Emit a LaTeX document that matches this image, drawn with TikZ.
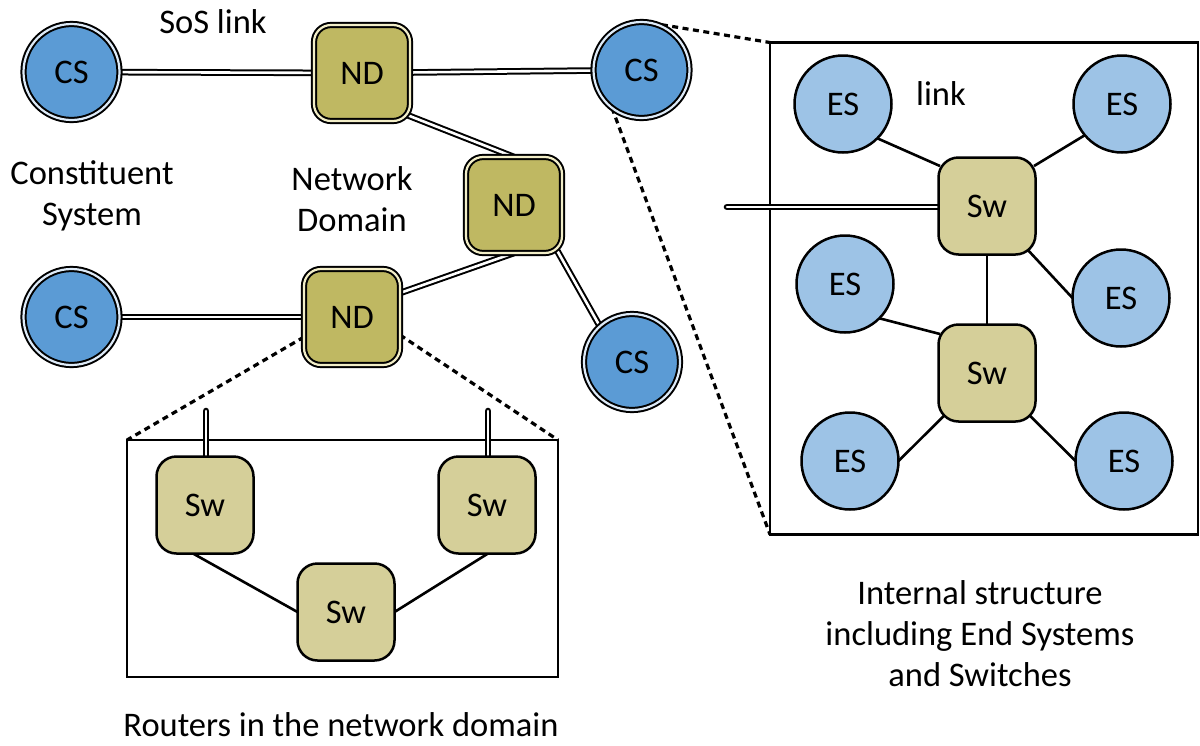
\documentclass[tikz,border=0pt]{standalone}
\usepackage{fontspec}
\setmainfont{Carlito}
\usetikzlibrary{calc}
\definecolor{csblue}{RGB}{91,155,213}
\definecolor{esblue}{RGB}{157,195,230}
\definecolor{ndolive}{RGB}{191,184,98}
\definecolor{swkhaki}{RGB}{213,207,153}
\definecolor{csgap}{RGB}{222,235,248}
\definecolor{ndgap}{RGB}{242,238,200}
\pgfdeclarelayer{back}
\pgfsetlayers{back,main}
\begin{document}
\begin{tikzpicture}[x=1pt,y=-1pt,
  every node/.style={font=\fontsize{34.5}{41}\selectfont},
  csnode/.style={circle, draw=black, line width=2pt, double=csgap,
    double distance=2.2pt, fill=csblue, minimum size=96pt, inner sep=0pt, outer sep=0pt},
  ndnode/.style={rectangle, rounded corners=17pt, draw=black, line width=2pt,
    double=ndgap, double distance=2.2pt, fill=ndolive, minimum size=96pt,
    inner sep=0pt, outer sep=0pt},
  swnode/.style={rectangle, rounded corners=20pt, draw=black, line width=2.5pt,
    fill=swkhaki, minimum size=97pt, inner sep=0pt, outer sep=0pt},
  esnode/.style={circle, draw=black, line width=2.5pt, fill=esblue,
    minimum size=97pt, inner sep=0pt, outer sep=0pt},
  boxframe/.style={rectangle, draw=black, line width=2.8pt, fill=white,
    inner sep=0pt, outer sep=0pt},
  soslink/.style={draw=black, line width=2pt, double=white, double distance=2.6pt},
  wirelink/.style={draw=black, line width=2.6pt},
  zoomline/.style={draw=black, line width=3.2pt, dash pattern=on 6pt off 4.5pt},
  label/.style={align=center, inner sep=0pt}
]
\useasboundingbox (0,0) rectangle (1200,745);

% systems of the SoS
\node[csnode] (cstl) at (71.5,72) {CS};
\node[ndnode] (ndt) at (362,73) {ND};
\node[csnode] (cstr) at (641.5,70) {CS};
\node[ndnode] (ndm) at (514,205) {ND};
\node[ndnode] (ndl) at (352,317) {ND};
\node[csnode] (cslb) at (71.5,317) {CS};
\node[csnode] (csbr) at (632,362) {CS};

% routers inside a network domain
\node[swnode] (swl) at (205,505) {Sw};
\node[swnode] (swr) at (487,505) {Sw};
\node[swnode] (swm) at (346,612) {Sw};

% end systems and switches inside a constituent system
\node[swnode] (sw1) at (987,206) {Sw};
\node[swnode] (sw2) at (987,373) {Sw};
\node[esnode] (es1) at (843,104) {ES};
\node[esnode] (es2) at (1122,104) {ES};
\node[esnode] (es3) at (845,284) {ES};
\node[esnode] (es4) at (1121,298) {ES};
\node[esnode] (es5) at (850,461) {ES};
\node[esnode] (es6) at (1124,461) {ES};

% text labels
\node[label] (tsos) at (213,22) {SoS link};
\node[label] (tcs) at (92,196) {Constituent\\System};
\node[label] (tnd) at (352,199) {Network\\Domain};
\node[label] (tlink) at (941,94) {link};
\node[label] (tint) at (980,634) {Internal structure\\including End Systems\\and Switches};
\node[label] (trout) at (341,725) {Routers in the network domain};

\coordinate (lkin) at (727,207);
\coordinate (upl) at (206,411);
\coordinate (upr) at (488,411);

\begin{pgfonlayer}{back}
  % detail frames
  \node[boxframe, minimum width=431pt, minimum height=237pt] (lbox) at (342.5,558.5) {};
  \node[boxframe, minimum width=428pt, minimum height=492pt] (rbox) at (984,288.5) {};

  % zoom guides
  \draw[zoomline] ($(ndl.west)+(0,20)$) -- (lbox.north west);
  \draw[zoomline] ($(ndl.east)+(0,18)$) -- (lbox.north east);
  \draw[zoomline] (cstr.78) -- (rbox.north west);
  \draw[zoomline] (cstr.232) -- (rbox.south west);

  % SoS links
  \draw[soslink] (cstl) -- (ndt);
  \draw[soslink] (ndt) -- (cstr);
  \draw[soslink] ($(ndt.center)+(40,40)$) -- (ndm.north);
  \draw[soslink] ($(ndl.east)+(0,-24)$) -- (ndm.south);
  \draw[soslink] ($(ndm.center)+(40,40)$) -- (csbr.132);
  \draw[soslink] (cslb) -- (ndl);

  % links leaving the detail frames
  \draw[soslink, line cap=round] (upl) -- (upl |- swl.north);
  \draw[soslink, line cap=round] (upr) -- (upr |- swr.north);
  \draw[soslink, line cap=round] (lkin) -- (lkin -| sw1.center);

  % internal links
  \draw[wirelink] ($(swl.south)+(-12,0)$) -- (swm.west);
  \draw[wirelink] ($(swr.south)+(1,0)$) -- (swm.east);
  \draw[wirelink] (es1.-45) -- ($(sw1.center)+(-47,-40)$);
  \draw[wirelink] (es2.220) -- ($(sw1.center)+(47,-40)$);
  \draw[wirelink] (sw1.center) -- (es4.west);
  \draw[wirelink] (sw1) -- (sw2);
  \draw[wirelink] (es3.-45) -- ($(sw2.center)+(-47,-39)$);
  \draw[wirelink] (es5.east) -- (sw2.center);
  \draw[wirelink] (sw2.center) -- (es6.west);
\end{pgfonlayer}
\end{tikzpicture}
\end{document}
